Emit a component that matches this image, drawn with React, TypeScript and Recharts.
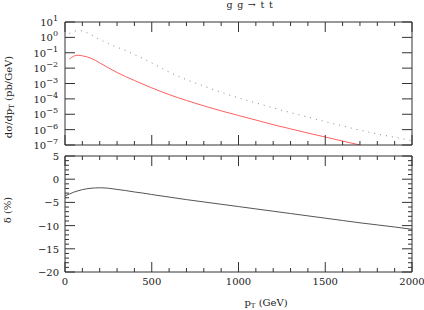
import React from "react";
import { LineChart, Line, XAxis, YAxis } from "recharts";

// transverse momentum grid (GeV)
const pT = [0, 25, 50, 75, 100, 150, 200, 250, 300, 350, 400, 450, 500, 600, 700, 800, 900, 1000, 1100, 1200, 1300, 1400, 1500, 1600, 1700, 1800, 1900, 2000];

// dσ/dpT, solid red curve (pb/GeV)
const sigmaRed = [null, 0.038, 0.06, 0.069, 0.063, 0.044, 0.022, 0.0105, 5.2e-3, 2.8e-3, 1.58e-3, 8.9e-4, 5.2e-4, 1.9e-4, 7.9e-5, 3.5e-5, 1.66e-5, 8.3e-6, 4.2e-6, 2.1e-6, 1.12e-6, 6.0e-7, 3.3e-7, 1.8e-7, 1.0e-7, null, null, null];

// dσ/dpT, dotted curve (pb/GeV)
const sigmaDotted = [null, 1.78, 2.4, 2.8, 2.6, 1.5, 0.72, 0.4, 0.23, 0.138, 0.076, 0.042, 0.022, 5.6e-3, 1.78e-3, 6.8e-4, 2.7e-4, 1.17e-4, 5.5e-5, 2.6e-5, 1.29e-5, 6.5e-6, 3.3e-6, 1.74e-6, 9.3e-7, 5.2e-7, 3.2e-7, 1.9e-7];

// relative correction δ (%)
const delta = [-3.6, -3.2, -2.8, -2.5, -2.25, -1.95, -1.85, -1.95, -2.2, -2.45, -2.75, -3.0, -3.3, -3.85, -4.4, -4.9, -5.4, -5.9, -6.4, -6.9, -7.4, -7.9, -8.4, -8.9, -9.4, -9.85, -10.3, -10.8];

const xTicks = [0, 100, 200, 300, 400, 500, 600, 700, 800, 900, 1000, 1100, 1200, 1300, 1400, 1500, 1600, 1700, 1800, 1900, 2000];
const xMajor = [0, 500, 1000, 1500, 2000];
const logTicks = [1e-7, 1e-6, 1e-5, 1e-4, 1e-3, 1e-2, 1e-1, 1, 10];
const logExp = [-7, -6, -5, -4, -3, -2, -1, 0, 1];
const deltaTicks = [-20, -19, -18, -17, -16, -15, -14, -13, -12, -11, -10, -9, -8, -7, -6, -5, -4, -3, -2, -1, 0, 1, 2, 3, 4, 5];
const deltaMajor = [-20, -15, -10, -5, 0, 5];

const topData = pT.map((p, i) => ({ pT: p, red: sigmaRed[i], dotted: sigmaDotted[i] }));
const bottomData = pT.map((p, i) => ({ pT: p, delta: delta[i] }));

const FONT = "'DejaVu Serif', serif";
const AX = "#333";

const fmtMinus = (v: number) => (v < 0 ? "\u2212" + Math.abs(v) : String(v));

// x ticks pointing up from the bottom frame
const XBottomTick = (props: any) => {
  const { x, y, payload, showLabel } = props;
  const major = xMajor.includes(payload.value);
  return (
    <g>
      <line x1={x} y1={y} x2={x} y2={y - (major ? 10 : 4)} stroke={AX} />
      {showLabel && major && (
        <text x={x} y={y + 13} textAnchor="middle" fontSize={10} fontFamily={FONT} fill="#222">
          {payload.value}
        </text>
      )}
    </g>
  );
};

// x ticks pointing down from the top frame
const XTopTick = (props: any) => {
  const { x, y, payload } = props;
  const major = xMajor.includes(payload.value);
  return <line x1={x} y1={y} x2={x} y2={y + (major ? 10 : 4)} stroke={AX} />;
};

const LogLeftTick = (props: any) => {
  const { x, y, payload } = props;
  const e = logExp[logTicks.indexOf(payload.value)];
  return (
    <g>
      <line x1={x} y1={y} x2={x + 10} y2={y} stroke={AX} />
      <text x={x - 7} y={y + 4} textAnchor="end" fontSize={10} fontFamily={FONT} fill="#222">
        <tspan>10</tspan>
        <tspan dy={-5} fontSize={8}>{fmtMinus(e)}</tspan>
      </text>
    </g>
  );
};

const LogRightTick = (props: any) => {
  const { x, y } = props;
  return <line x1={x} y1={y} x2={x - 10} y2={y} stroke={AX} />;
};

const DeltaLeftTick = (props: any) => {
  const { x, y, payload } = props;
  const major = deltaMajor.includes(payload.value);
  return (
    <g>
      <line x1={x} y1={y} x2={x + (major ? 10 : 4)} y2={y} stroke={AX} />
      {major && (
        <text x={x - 6} y={y + 4} textAnchor="end" fontSize={10} fontFamily={FONT} fill="#222">
          {fmtMinus(payload.value)}
        </text>
      )}
    </g>
  );
};

const DeltaRightTick = (props: any) => {
  const { x, y, payload } = props;
  const major = deltaMajor.includes(payload.value);
  return <line x1={x} y1={y} x2={x - (major ? 10 : 4)} y2={y} stroke={AX} />;
};

export default function App() {
  return (
    <div style={{ position: "absolute", left: 0, top: 0, width: 424, height: 310, background: "#fff" }}>
      {/* upper panel: cross sections on a log scale */}
      <div style={{ position: "absolute", left: 0, top: 0 }}>
        <LineChart width={424} height={150} data={topData} margin={{ top: 21, right: 11, bottom: 4, left: 64 }}>
          <XAxis xAxisId="b" dataKey="pT" type="number" domain={[0, 2000]} allowDataOverflow ticks={xTicks} interval={0}
            height={1} tickSize={0} tickMargin={0} tickLine={false} axisLine={{ stroke: AX }} tick={(p: any) => <XBottomTick {...p} />} />
          <XAxis xAxisId="t" orientation="top" dataKey="pT" type="number" domain={[0, 2000]} allowDataOverflow ticks={xTicks} interval={0}
            height={1} tickSize={0} tickMargin={0} tickLine={false} axisLine={{ stroke: AX }} tick={(p: any) => <XTopTick {...p} />} />
          <YAxis yAxisId="l" type="number" scale="log" domain={[1e-7, 10]} allowDataOverflow ticks={logTicks} interval={0}
            width={1} tickSize={0} tickMargin={0} tickLine={false} axisLine={{ stroke: AX }} tick={(p: any) => <LogLeftTick {...p} />} />
          <YAxis yAxisId="r" orientation="right" type="number" scale="log" domain={[1e-7, 10]} allowDataOverflow ticks={logTicks} interval={0}
            width={1} tickSize={0} tickMargin={0} tickLine={false} axisLine={{ stroke: AX }} tick={(p: any) => <LogRightTick {...p} />} />
          <Line xAxisId="t" yAxisId="r" dataKey="dotted" stroke="none" dot={false} activeDot={false} isAnimationActive={false} />
          <Line xAxisId="b" yAxisId="l" type="monotone" dataKey="dotted" stroke="#888" strokeWidth={1} strokeDasharray="1 5"
            dot={false} activeDot={false} isAnimationActive={false} />
          <Line xAxisId="b" yAxisId="l" type="monotone" dataKey="red" stroke="#ff5f5f" strokeWidth={1}
            dot={false} activeDot={false} isAnimationActive={false} />
        </LineChart>
      </div>

      {/* lower panel: relative correction */}
      <div style={{ position: "absolute", left: 0, top: 150 }}>
        <LineChart width={424} height={160} data={bottomData} margin={{ top: 5, right: 11, bottom: 37, left: 64 }}>
          <XAxis xAxisId="b" dataKey="pT" type="number" domain={[0, 2000]} allowDataOverflow ticks={xTicks} interval={0}
            height={1} tickSize={0} tickMargin={0} tickLine={false} axisLine={{ stroke: AX }} tick={(p: any) => <XBottomTick {...p} showLabel />} />
          <XAxis xAxisId="t" orientation="top" dataKey="pT" type="number" domain={[0, 2000]} allowDataOverflow ticks={xTicks} interval={0}
            height={1} tickSize={0} tickMargin={0} tickLine={false} axisLine={{ stroke: AX }} tick={(p: any) => <XTopTick {...p} />} />
          <YAxis yAxisId="l" type="number" domain={[-20, 5]} allowDataOverflow ticks={deltaTicks} interval={0}
            width={1} tickSize={0} tickMargin={0} tickLine={false} axisLine={{ stroke: AX }} tick={(p: any) => <DeltaLeftTick {...p} />} />
          <YAxis yAxisId="r" orientation="right" type="number" domain={[-20, 5]} allowDataOverflow ticks={deltaTicks} interval={0}
            width={1} tickSize={0} tickMargin={0} tickLine={false} axisLine={{ stroke: AX }} tick={(p: any) => <DeltaRightTick {...p} />} />
          <Line xAxisId="t" yAxisId="r" dataKey="delta" stroke="none" dot={false} activeDot={false} isAnimationActive={false} />
          <Line xAxisId="b" yAxisId="l" type="monotone" dataKey="delta" stroke="#555" strokeWidth={1}
            dot={false} activeDot={false} isAnimationActive={false} />
        </LineChart>
      </div>

      {/* titles */}
      <svg width={424} height={310} style={{ position: "absolute", left: 0, top: 0, pointerEvents: "none" }}>
        <text x={250} y={8} textAnchor="middle" fontSize={9.5} letterSpacing={0.8} fontFamily={FONT} fill="#222">g g → t t</text>
        <text transform="translate(12,97) rotate(-90)" textAnchor="middle" fontSize={10} fontFamily={FONT} fill="#222">
          <tspan>dσ/dp</tspan>
          <tspan fontSize={7} dy={2}>T</tspan>
          <tspan dy={-2}> (pb/GeV)</tspan>
        </text>
        <text transform="translate(11,210) rotate(-90)" textAnchor="middle" fontSize={10} fontFamily={FONT} fill="#222">δ (%)</text>
        <text x={266} y={306} textAnchor="middle" fontSize={10} fontFamily={FONT} fill="#222">
          <tspan>p</tspan>
          <tspan fontSize={7} dy={2}>T</tspan>
          <tspan dy={-2}> (GeV)</tspan>
        </text>
      </svg>
    </div>
  );
}
